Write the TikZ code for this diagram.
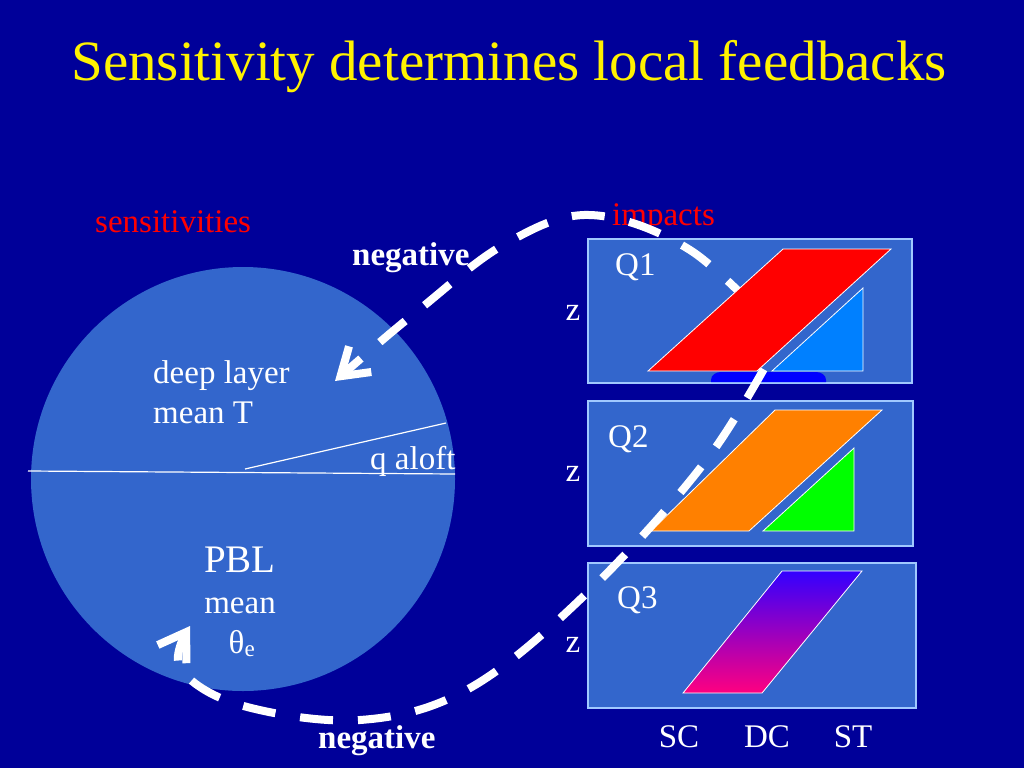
\documentclass[tikz,border=0pt]{standalone}
\usepackage{fontspec}
\setmainfont{Liberation Serif}
\usetikzlibrary{arrows.meta}
\definecolor{slidebg}{RGB}{0,0,153}
\definecolor{panel}{RGB}{51,102,204}
\definecolor{panelline}{RGB}{160,200,255}
\definecolor{skyblue}{RGB}{0,128,255}
\definecolor{bumpblue}{RGB}{0,0,255}
\definecolor{dcorange}{RGB}{255,128,0}
\definecolor{stgreen}{RGB}{0,255,0}
\definecolor{topviolet}{RGB}{51,0,255}
\definecolor{botpink}{RGB}{255,0,128}

\begin{document}
\begin{tikzpicture}[x=1pt, y=-1pt,
    txt/.style={text=white, inner sep=0pt, font=\fontsize{33}{36}\selectfont},
    redtxt/.style={txt, text=red},
    boldtxt/.style={txt, font=\fontsize{33}{36}\selectfont\bfseries},
    panelbox/.style={fill=panel, draw=panelline, line width=1.5pt},
    shapeline/.style={draw=white, line width=0.8pt},
    feedback/.style={draw=white, line width=8pt, dash pattern=on 33pt off 25pt,
        >={Straight Barb[length=26pt,width=34pt]}}]

    \fill[slidebg] (0, 0) rectangle (1024, 768);

    \node[txt, text=yellow, font=\fontsize{57}{60}\selectfont, anchor=base] (title) at (509, 80)
        {Sensitivity determines local feedbacks};

    % sensitivities
    \fill[panel] (243, 479) circle (212pt);
    \draw[white, line width=1.2pt] (28, 471) -- (455, 474);
    \draw[white, line width=1.2pt] (245, 469) -- (446, 423);

    \node[redtxt, anchor=base west] (sens) at (95, 232) {sensitivities};
    \node[txt, anchor=base west] (deep) at (153, 383) {deep layer};
    \node[txt, anchor=base west] (meanT) at (153, 423) {mean T};
    \node[txt, anchor=base west] (qaloft) at (370, 469) {q aloft};
    \node[txt, font=\fontsize{39}{42}\selectfont, anchor=base] (pbl) at (240, 572) {PBL};
    \node[txt, anchor=base] (pblmean) at (240, 613) {mean};
    \node[txt, anchor=base] (theta) at (242, 653) {θ\textsubscript{e}};

    % impacts
    \node[redtxt, anchor=base west] (imp) at (612, 225) {impacts};

    \draw[panelbox] (588, 239) rectangle (912, 383);
    \draw[panelbox] (588, 401) rectangle (913, 546);
    \draw[panelbox] (588, 563) rectangle (916, 708);

    \fill[bumpblue] (711, 382) -- (711, 380) to[out=90, in=180] (721, 372) -- (816, 372)
        to[out=0, in=90] (826, 380) -- (826, 382) -- cycle;
    \filldraw[fill=dcorange, shapeline] (651, 531) -- (749, 531) -- (882, 410) -- (775, 410) -- cycle;
    \filldraw[fill=stgreen, shapeline] (763, 531) -- (854, 531) -- (854, 448) -- cycle;
    \shade[top color=topviolet, bottom color=botpink] (683, 693) -- (762, 693) -- (862, 571) -- (782, 571) -- cycle;
    \draw[shapeline] (683, 693) -- (762, 693) -- (862, 571) -- (782, 571) -- cycle;

    \node[txt, anchor=base west] (q1) at (615, 275) {Q1};
    \node[txt, anchor=base west] (q2) at (608, 447) {Q2};
    \node[txt, anchor=base west] (q3) at (617, 608) {Q3};
    \node[txt, anchor=base] (z1) at (573, 320) {z};
    \node[txt, anchor=base] (z2) at (573, 481) {z};
    \node[txt, anchor=base] (z3) at (573, 652) {z};
    \node[txt, anchor=base] (sc) at (679, 747) {SC};
    \node[txt, anchor=base] (dc) at (767, 747) {DC};
    \node[txt, anchor=base] (st) at (853, 747) {ST};

    \node[boldtxt, anchor=base west] (negtop) at (352, 265) {negative};
    \node[boldtxt, anchor=base west] (negbot) at (318, 748) {negative};

    % feedback loop
    \coordinate (deepTip) at (335, 381);
    \coordinate (fbA) at (420, 309);
    \coordinate (fbB) at (505, 244);
    \coordinate (fbTop) at (590, 215);
    \coordinate (fbC) at (690, 250);
    \coordinate (fbTurn) at (782, 336);
    \coordinate (fbD) at (708, 458);
    \coordinate (fbE) at (590, 590);
    \coordinate (fbF) at (470, 688);
    \coordinate (fbBot) at (360, 720);
    \coordinate (fbG) at (240, 705);
    \coordinate (fbH) at (180, 668);
    \coordinate (pblTip) at (190, 626);

    \draw[feedback, <-, dash phase=10pt] plot[smooth, tension=0.6] coordinates {(deepTip) (fbA) (fbB)
        (fbTop) (fbC) (fbTurn)};
    \draw[feedback, ->, dash phase=20pt] plot[smooth, tension=0.6] coordinates {(fbTurn) (fbD) (fbE)
        (fbF) (fbBot) (fbG) (fbH) (pblTip)};

    \filldraw[fill=red, shapeline] (648, 371) -- (757, 371) -- (891, 249) -- (783, 249) -- cycle;
    \filldraw[fill=skyblue, shapeline] (772, 371) -- (863, 371) -- (863, 288) -- cycle;

\end{tikzpicture}
\end{document}
